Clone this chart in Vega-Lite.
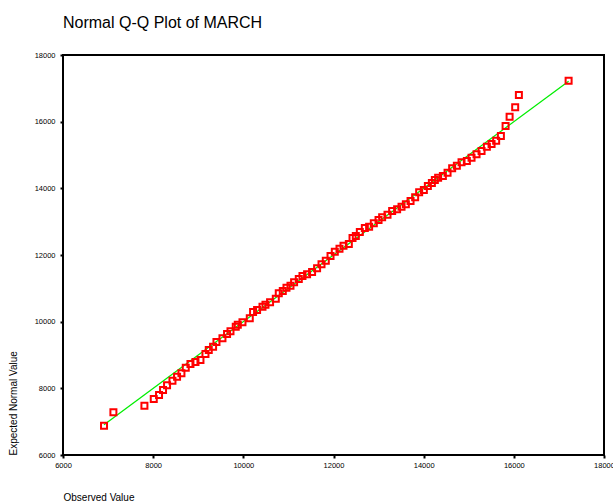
{
  "$schema": "https://vega.github.io/schema/vega-lite/v6.json",
  "width": 541,
  "height": 400,
  "autosize": "none",
  "padding": {"left": 63, "top": 55, "right": 9, "bottom": 47},
  "background": "white",
  "title": {
    "text": "Normal Q-Q Plot of MARCH",
    "anchor": "start",
    "frame": "group",
    "font": "Liberation Sans",
    "fontSize": 16,
    "fontWeight": "normal",
    "color": "#000000",
    "offset": 20
  },
  "config": {
    "view": {"stroke": "#000000", "strokeWidth": 2},
    "axis": {
      "domain": false,
      "grid": false,
      "tickColor": "#000000",
      "tickSize": 3,
      "tickWidth": 2,
      "labelFont": "Liberation Sans",
      "labelFontSize": 7.5,
      "labelColor": "#000000",
      "labelFlush": false,
      "titleFont": "Liberation Sans",
      "titleFontSize": 10,
      "titleFontWeight": "normal",
      "titleColor": "#000000"
    }
  },
  "datasets": {
    "points": [
      {"observed": 6910, "expected": 6879},
      {"observed": 7118, "expected": 7281},
      {"observed": 7806, "expected": 7479},
      {"observed": 8013, "expected": 7680},
      {"observed": 8130, "expected": 7800},
      {"observed": 8219, "expected": 7950},
      {"observed": 8308, "expected": 8091},
      {"observed": 8428, "expected": 8229},
      {"observed": 8530, "expected": 8349},
      {"observed": 8627, "expected": 8451},
      {"observed": 8723, "expected": 8619},
      {"observed": 8827, "expected": 8730},
      {"observed": 8938, "expected": 8790},
      {"observed": 9049, "expected": 8850},
      {"observed": 9160, "expected": 9030},
      {"observed": 9233, "expected": 9150},
      {"observed": 9329, "expected": 9249},
      {"observed": 9404, "expected": 9390},
      {"observed": 9537, "expected": 9501},
      {"observed": 9639, "expected": 9630},
      {"observed": 9715, "expected": 9711},
      {"observed": 9832, "expected": 9849},
      {"observed": 9877, "expected": 9909},
      {"observed": 9981, "expected": 9981},
      {"observed": 10143, "expected": 10101},
      {"observed": 10216, "expected": 10290},
      {"observed": 10305, "expected": 10350},
      {"observed": 10425, "expected": 10449},
      {"observed": 10491, "expected": 10509},
      {"observed": 10593, "expected": 10581},
      {"observed": 10720, "expected": 10689},
      {"observed": 10786, "expected": 10851},
      {"observed": 10875, "expected": 10920},
      {"observed": 10957, "expected": 11019},
      {"observed": 11046, "expected": 11079},
      {"observed": 11126, "expected": 11181},
      {"observed": 11230, "expected": 11280},
      {"observed": 11312, "expected": 11370},
      {"observed": 11414, "expected": 11421},
      {"observed": 11525, "expected": 11490},
      {"observed": 11636, "expected": 11601},
      {"observed": 11734, "expected": 11721},
      {"observed": 11829, "expected": 11829},
      {"observed": 11934, "expected": 11970},
      {"observed": 12029, "expected": 12099},
      {"observed": 12133, "expected": 12189},
      {"observed": 12222, "expected": 12279},
      {"observed": 12340, "expected": 12330},
      {"observed": 12422, "expected": 12510},
      {"observed": 12495, "expected": 12570},
      {"observed": 12584, "expected": 12690},
      {"observed": 12695, "expected": 12810},
      {"observed": 12790, "expected": 12849},
      {"observed": 12894, "expected": 12951},
      {"observed": 12999, "expected": 13050},
      {"observed": 13079, "expected": 13131},
      {"observed": 13198, "expected": 13209},
      {"observed": 13301, "expected": 13320},
      {"observed": 13411, "expected": 13371},
      {"observed": 13509, "expected": 13449},
      {"observed": 13605, "expected": 13521},
      {"observed": 13709, "expected": 13620},
      {"observed": 13811, "expected": 13731},
      {"observed": 13900, "expected": 13881},
      {"observed": 14004, "expected": 13950},
      {"observed": 14093, "expected": 14070},
      {"observed": 14182, "expected": 14160},
      {"observed": 14248, "expected": 14250},
      {"observed": 14321, "expected": 14319},
      {"observed": 14426, "expected": 14370},
      {"observed": 14530, "expected": 14469},
      {"observed": 14632, "expected": 14601},
      {"observed": 14736, "expected": 14679},
      {"observed": 14840, "expected": 14781},
      {"observed": 14958, "expected": 14820},
      {"observed": 15062, "expected": 14919},
      {"observed": 15173, "expected": 15021},
      {"observed": 15284, "expected": 15120},
      {"observed": 15402, "expected": 15249},
      {"observed": 15506, "expected": 15330},
      {"observed": 15608, "expected": 15429},
      {"observed": 15713, "expected": 15570},
      {"observed": 15817, "expected": 15870},
      {"observed": 15906, "expected": 16149},
      {"observed": 16030, "expected": 16431},
      {"observed": 16112, "expected": 16800},
      {"observed": 17215, "expected": 17229}
    ],
    "refline": [
      {"observed": 6910, "expected": 6910},
      {"observed": 17215, "expected": 17215}
    ]
  },
  "layer": [
    {
      "data": {"name": "refline"},
      "mark": {"type": "line", "color": "#00ee00", "strokeWidth": 1.3},
      "encoding": {
        "x": {
          "field": "observed", "type": "quantitative",
          "scale": {"domain": [6000, 18000], "nice": false, "zero": false},
          "axis": {
            "title": "Observed Value",
            "values": [6000, 8000, 10000, 12000, 14000, 16000, 18000],
            "format": "d",
            "labelPadding": 3,
            "titleX": 0, "titleY": 42,
            "titleAlign": "left", "titleBaseline": "middle"
          }
        },
        "y": {
          "field": "expected", "type": "quantitative",
          "scale": {"domain": [6000, 18000], "nice": false, "zero": false},
          "axis": {
            "title": "Expected Normal Value",
            "values": [6000, 8000, 10000, 12000, 14000, 16000, 18000],
            "format": "d",
            "labelPadding": 5,
            "titleX": -50, "titleY": 400,
            "titleAngle": 270,
            "titleAlign": "left", "titleBaseline": "middle"
          }
        }
      }
    },
    {
      "data": {"name": "points"},
      "mark": {"type": "point", "shape": "square", "filled": false, "color": "#ff0000", "size": 36, "strokeWidth": 2, "opacity": 1},
      "encoding": {
        "x": {"field": "observed", "type": "quantitative"},
        "y": {"field": "expected", "type": "quantitative"}
      }
    }
  ]
}
